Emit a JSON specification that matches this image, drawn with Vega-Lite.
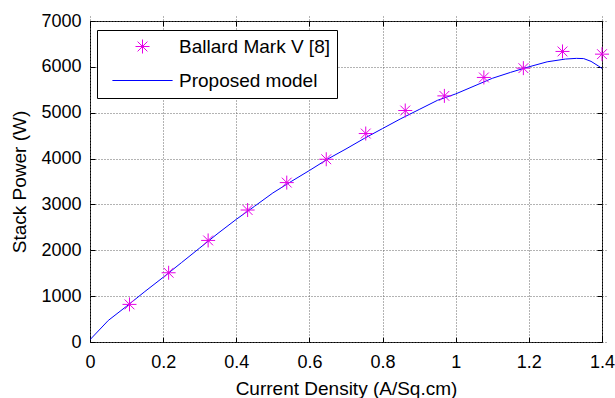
{
  "$schema": "https://vega.github.io/schema/vega-lite/v6.json",
  "width": 512,
  "height": 321,
  "autosize": {"type": "none"},
  "padding": {"left": 90, "top": 21, "right": 13, "bottom": 56},
  "background": "white",
  "config": {
    "font": "Liberation Sans",
    "view": {"stroke": "black", "strokeWidth": 1},
    "axis": {
      "domain": false,
      "tickColor": "black",
      "labelColor": "black",
      "titleColor": "black",
      "labelFont": "Liberation Sans",
      "titleFont": "Liberation Sans",
      "labelFontSize": 18,
      "titleFontSize": 19,
      "titleFontWeight": "normal",
      "gridColor": "#666666",
      "gridDash": [1, 2],
      "gridWidth": 1,
      "tickSize": 5,
      "offset": -5
    },
    "legend": {
      "labelFont": "Liberation Sans",
      "labelFontSize": 19,
      "labelColor": "black"
    }
  },
  "datasets": {
    "measured": [
      {"x": 0.108, "y": 820, "series": "Ballard Mark V [8]"},
      {"x": 0.215, "y": 1510, "series": "Ballard Mark V [8]"},
      {"x": 0.323, "y": 2215, "series": "Ballard Mark V [8]"},
      {"x": 0.431, "y": 2878, "series": "Ballard Mark V [8]"},
      {"x": 0.538, "y": 3476, "series": "Ballard Mark V [8]"},
      {"x": 0.646, "y": 3985, "series": "Ballard Mark V [8]"},
      {"x": 0.754, "y": 4546, "series": "Ballard Mark V [8]"},
      {"x": 0.862, "y": 5048, "series": "Ballard Mark V [8]"},
      {"x": 0.969, "y": 5367, "series": "Ballard Mark V [8]"},
      {"x": 1.077, "y": 5769, "series": "Ballard Mark V [8]"},
      {"x": 1.185, "y": 5972, "series": "Ballard Mark V [8]"},
      {"x": 1.292, "y": 6336, "series": "Ballard Mark V [8]"},
      {"x": 1.4, "y": 6277, "series": "Ballard Mark V [8]"}
    ],
    "model": [
      {"x": 0.0, "y": 50, "series": "Proposed model"},
      {"x": 0.05, "y": 470, "series": "Proposed model"},
      {"x": 0.1, "y": 780, "series": "Proposed model"},
      {"x": 0.15, "y": 1100, "series": "Proposed model"},
      {"x": 0.2, "y": 1410, "series": "Proposed model"},
      {"x": 0.25, "y": 1730, "series": "Proposed model"},
      {"x": 0.3, "y": 2050, "series": "Proposed model"},
      {"x": 0.35, "y": 2370, "series": "Proposed model"},
      {"x": 0.4, "y": 2675, "series": "Proposed model"},
      {"x": 0.45, "y": 2960, "series": "Proposed model"},
      {"x": 0.5, "y": 3250, "series": "Proposed model"},
      {"x": 0.55, "y": 3500, "series": "Proposed model"},
      {"x": 0.6, "y": 3740, "series": "Proposed model"},
      {"x": 0.65, "y": 3990, "series": "Proposed model"},
      {"x": 0.7, "y": 4210, "series": "Proposed model"},
      {"x": 0.75, "y": 4440, "series": "Proposed model"},
      {"x": 0.8, "y": 4655, "series": "Proposed model"},
      {"x": 0.85, "y": 4870, "series": "Proposed model"},
      {"x": 0.9, "y": 5070, "series": "Proposed model"},
      {"x": 0.95, "y": 5270, "series": "Proposed model"},
      {"x": 1.0, "y": 5410, "series": "Proposed model"},
      {"x": 1.05, "y": 5580, "series": "Proposed model"},
      {"x": 1.1, "y": 5750, "series": "Proposed model"},
      {"x": 1.15, "y": 5880, "series": "Proposed model"},
      {"x": 1.2, "y": 6000, "series": "Proposed model"},
      {"x": 1.25, "y": 6110, "series": "Proposed model"},
      {"x": 1.3, "y": 6170, "series": "Proposed model"},
      {"x": 1.33, "y": 6185, "series": "Proposed model"},
      {"x": 1.35, "y": 6180, "series": "Proposed model"},
      {"x": 1.37, "y": 6120, "series": "Proposed model"},
      {"x": 1.39, "y": 6020, "series": "Proposed model"},
      {"x": 1.4, "y": 5965, "series": "Proposed model"}
    ]
  },
  "layer": [
    {
      "data": {"name": "model"},
      "mark": {"type": "line", "strokeWidth": 1, "clip": true},
      "encoding": {
        "x": {
          "field": "x", "type": "quantitative",
          "scale": {"domain": [0, 1.4], "nice": false, "zero": false},
          "axis": {"orient": "top", "labels": false, "title": null, "grid": false, "values": [0, 0.2, 0.4, 0.6, 0.8, 1, 1.2, 1.4]}
        },
        "y": {
          "field": "y", "type": "quantitative",
          "scale": {"domain": [0, 7000], "nice": false},
          "axis": {"orient": "right", "labels": false, "title": null, "grid": false, "values": [0, 1000, 2000, 3000, 4000, 5000, 6000, 7000]}
        },
        "color": {
          "field": "series", "type": "nominal",
          "scale": {"domain": ["Ballard Mark V [8]", "Proposed model"], "range": ["#e600e6", "#0000ff"]},
          "legend": {
            "title": null,
            "orient": "none",
            "legendX": 7,
            "legendY": 9,
            "fillColor": "white",
            "strokeColor": "black",
            "padding": 7,
            "symbolSize": 196,
            "symbolStrokeWidth": 1,
            "symbolOffset": 29,
            "labelOffset": 27,
            "rowPadding": 14,
            "labelFontSize": 19
          }
        }
      }
    },
    {
      "data": {"name": "measured"},
      "mark": {"type": "point", "filled": false, "size": 196, "strokeWidth": 1, "opacity": 1},
      "encoding": {
        "x": {
          "field": "x", "type": "quantitative",
          "scale": {"domain": [0, 1.4], "nice": false, "zero": false},
          "axis": {"orient": "bottom", "title": "Current Density (A/Sq.cm)", "values": [0, 0.2, 0.4, 0.6, 0.8, 1, 1.2, 1.4], "format": "~g", "labelPadding": 11, "titlePadding": 8, "labelFlush": false, "grid": true}
        },
        "y": {
          "field": "y", "type": "quantitative",
          "scale": {"domain": [0, 7000], "nice": false},
          "axis": {"orient": "left", "title": "Stack Power (W)", "values": [0, 1000, 2000, 3000, 4000, 5000, 6000, 7000], "format": "d", "labelPadding": 9, "titlePadding": 11, "grid": true}
        },
        "color": {
          "field": "series", "type": "nominal",
          "scale": {"domain": ["Ballard Mark V [8]", "Proposed model"], "range": ["#e600e6", "#0000ff"]},
          "legend": {
            "title": null,
            "orient": "none",
            "legendX": 7,
            "legendY": 9,
            "fillColor": "white",
            "strokeColor": "black",
            "padding": 7,
            "symbolSize": 196,
            "symbolStrokeWidth": 1,
            "symbolOffset": 29,
            "labelOffset": 27,
            "rowPadding": 14,
            "labelFontSize": 19
          }
        },
        "shape": {
          "field": "series", "type": "nominal",
          "scale": {
            "domain": ["Ballard Mark V [8]", "Proposed model"],
            "range": ["M-1,0L1,0M0,-1L0,1M-0.7,-0.7L0.7,0.7M-0.7,0.7L0.7,-0.7", "M-4.3,0L4.3,0"]
          },
          "legend": {
            "title": null,
            "orient": "none",
            "legendX": 7,
            "legendY": 9,
            "fillColor": "white",
            "strokeColor": "black",
            "padding": 7,
            "symbolSize": 196,
            "symbolStrokeWidth": 1,
            "symbolOffset": 29,
            "labelOffset": 27,
            "rowPadding": 14,
            "labelFontSize": 19
          }
        }
      }
    }
  ],
  "resolve": {"axis": {"x": "independent", "y": "independent"}}
}
